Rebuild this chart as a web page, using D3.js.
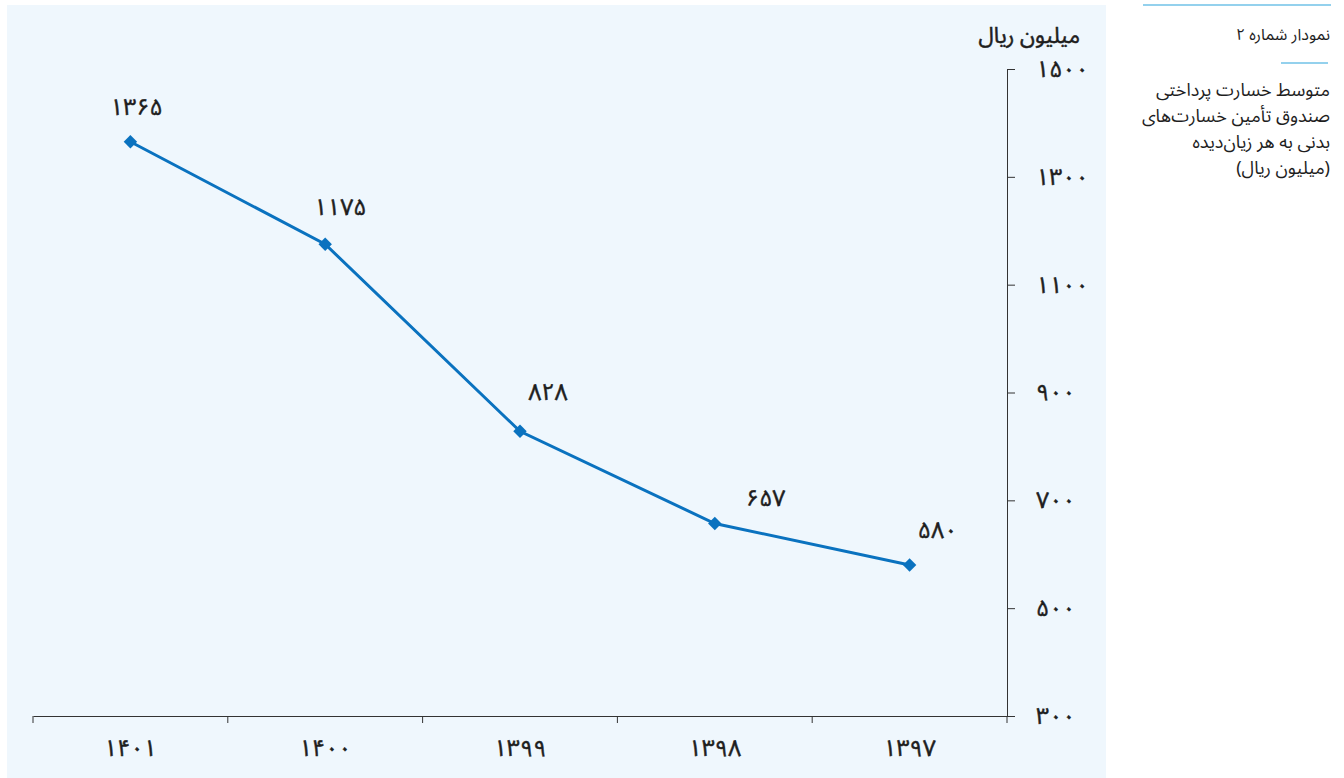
<!DOCTYPE html>
<html lang="fa">
<head>
<meta charset="utf-8">
<script src="https://cdn.jsdelivr.net/npm/d3@7/dist/d3.min.js"></script>
<style>
  html, body { margin: 0; padding: 0; background: #ffffff; }
  svg { display: block; }
  text { font-family: "Noto Sans Arabic", "DejaVu Sans", "Noto Sans", sans-serif; fill: #1e1e1e; }
  .heavy { stroke: #1e1e1e; stroke-width: 0.5px; }
  .num { letter-spacing: 1px; }
</style>
</head>
<body>
<svg id="chart" width="1344" height="778"></svg>
<script>
// Years shown on the horizontal axis (newest on the left)
const years = [1401, 1400, 1399, 1398, 1397];
// Average physical-damage payout per injured person, million rials
const payouts = [1365, 1175, 828, 657, 580];
// Vertical axis ticks
const yTicks = [300, 500, 700, 900, 1100, 1300, 1500];
// Side-panel captions
const captionTitle = "نمودار شماره ۲";
const captionLines = [
  "متوسط خسارت پرداختی",
  "صندوق تأمین خسارت‌های",
  "بدنی به هر زیان‌دیده",
  "(میلیون ریال)"
];
const unitLabel = "میلیون ریال";

// Value-label nudges relative to each marker
const labelNudge = [[6, -35], [15, -37], [28, -39], [51, -26], [28, -35]];

const fa = n => String(n).replace(/\d/g, d => "۰۱۲۳۴۵۶۷۸۹"[d]);

const svg = d3.select("#chart");
const lineColor = "#0a72bf";
const axisColor = "#333333";

// Plot panel
svg.append("rect")
  .attr("x", 7).attr("y", 5)
  .attr("width", 1099).attr("height", 773)
  .attr("fill", "#eff7fd");

const x = d3.scaleBand().domain(years).range([33, 1007]);
const y = d3.scaleLinear().domain([300, 1500]).range([716, 69]);

// Horizontal axis: labels at band centres, ticks on band edges
const xAxis = svg.append("g").attr("transform", "translate(0,716)")
  .call(d3.axisBottom(x).tickSize(0).tickPadding(24).tickFormat(fa));
xAxis.select(".domain").attr("stroke", axisColor);
xAxis.selectAll("text").attr("font-size", 23).attr("fill", "#1e1e1e")
  .attr("font-family", null).attr("class", "heavy num");

const edges = years.map(d => x(d)).concat([x.range()[1]]);
svg.append("g").selectAll("line").data(edges).join("line")
  .attr("x1", d => d).attr("x2", d => d)
  .attr("y1", 716).attr("y2", 723)
  .attr("stroke", axisColor);

// Vertical axis on the right
const yAxis = svg.append("g").attr("transform", "translate(1007,0)")
  .call(d3.axisRight(y).tickValues(yTicks).tickSize(8).tickSizeOuter(0).tickPadding(21).tickFormat(fa));
yAxis.select(".domain").attr("stroke", axisColor);
yAxis.selectAll(".tick line").attr("stroke", axisColor);
yAxis.selectAll("text").attr("font-size", 23).attr("fill", "#1e1e1e")
  .attr("font-family", null).attr("class", "heavy num");

svg.append("text")
  .attr("x", 1080).attr("y", 43)
  .attr("text-anchor", "end")
  .attr("font-size", 22)
  .attr("class", "heavy")
  .text(unitLabel);

// Series line
const pts = years.map((yr, i) => ({ yr, v: payouts[i], i }));
svg.append("path")
  .datum(pts)
  .attr("fill", "none")
  .attr("stroke", lineColor)
  .attr("stroke-width", 3)
  .attr("d", d3.line().x(d => x(d.yr) + x.bandwidth() / 2).y(d => y(d.v)));

// Diamond markers
svg.append("g").selectAll("path").data(pts).join("path")
  .attr("transform", d => `translate(${x(d.yr) + x.bandwidth() / 2},${y(d.v)})`)
  .attr("d", d3.symbol(d3.symbolDiamond2, 115))
  .attr("fill", lineColor);

// Value labels
svg.append("g").selectAll("text").data(pts).join("text")
  .attr("x", d => x(d.yr) + x.bandwidth() / 2 + labelNudge[d.i][0])
  .attr("y", d => y(d.v) + labelNudge[d.i][1])
  .attr("dy", "0.35em")
  .attr("text-anchor", "middle")
  .attr("font-size", 23)
  .attr("class", "heavy num")
  .text(d => fa(d.v));

// Side caption
svg.append("line")
  .attr("x1", 1143).attr("x2", 1331).attr("y1", 5).attr("y2", 5)
  .attr("stroke", "#2aa3dc").attr("stroke-width", 1.2);
svg.append("text")
  .attr("x", 1330).attr("y", 40)
  .attr("text-anchor", "start").attr("direction", "rtl")
  .attr("font-size", 16)
  .text(captionTitle);
svg.append("line")
  .attr("x1", 1281).attr("x2", 1328).attr("y1", 63).attr("y2", 63)
  .attr("stroke", "#2aa3dc").attr("stroke-width", 1.2);
svg.append("g").selectAll("text").data(captionLines).join("text")
  .attr("x", 1330)
  .attr("y", (d, i) => 96 + i * 26)
  .attr("text-anchor", "start").attr("direction", "rtl")
  .attr("font-size", 18)
  .text(d => d);
</script>
</body>
</html>
